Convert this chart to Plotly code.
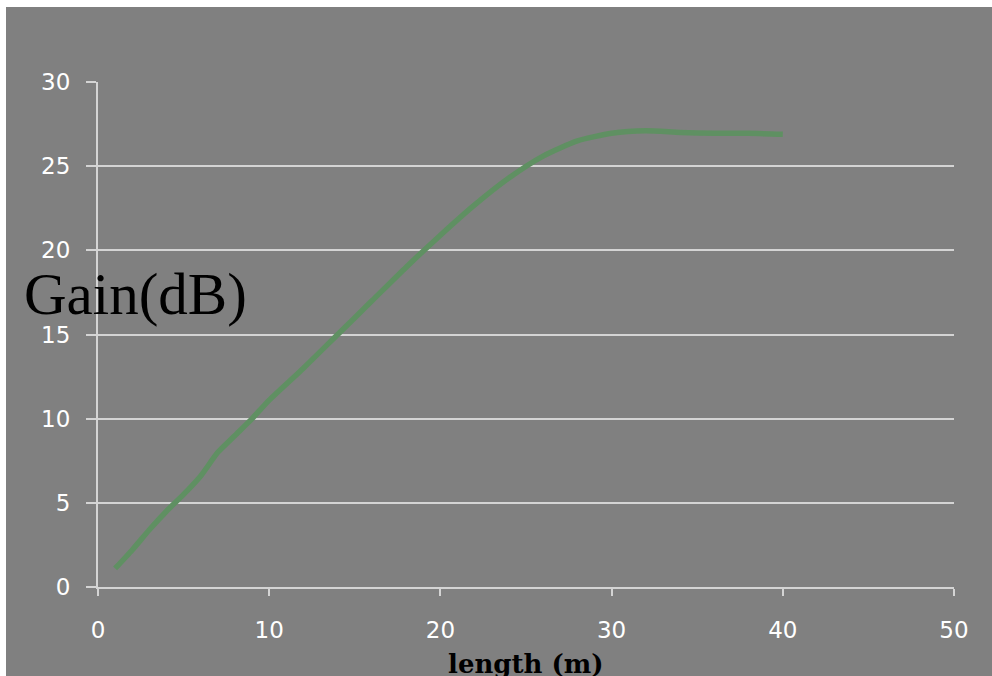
import plotly.graph_objects as go

# Fiber length (m) vs. measured gain (dB)
length_m = [1, 2, 3, 4, 5, 6, 7, 8, 9, 10, 12, 14, 16, 18, 20, 22, 24, 26, 28, 30, 32, 34, 36, 38, 40]
gain_db = [1.1, 2.2, 3.4, 4.5, 5.5, 6.6, 8.0, 9.0, 10.0, 11.1, 13.0, 15.0, 17.0, 19.0, 20.9,
           22.7, 24.3, 25.6, 26.5, 26.95, 27.1, 27.0, 26.95, 26.95, 26.9]

x_ticks = [0, 10, 20, 30, 40, 50]
y_ticks = [0, 5, 10, 15, 20, 25, 30]

W, H = 992, 676
L, R, T, B = 98, 38, 82, 89
pw, ph = W - L - R, H - T - B

def px_to_paper_x(px):
    return (px - L) / pw

def px_to_paper_y(py):
    return (H - B - py) / ph

fig = go.Figure()
fig.add_trace(go.Scatter(
    x=length_m, y=gain_db, mode="lines",
    line=dict(color="#5f9062", width=5.5, shape="spline", smoothing=0.6),
    hoverinfo="x+y", showlegend=False,
))

grid = "#d4d4d4"
tick_font = dict(family="DejaVu Sans", size=23, color="white")

fig.update_layout(
    width=W, height=H,
    margin=dict(l=L, r=R, t=T, b=B),
    paper_bgcolor="#808080",
    plot_bgcolor="#808080",
    xaxis=dict(
        range=[0, 50], tickvals=x_ticks, ticktext=[str(v) for v in x_ticks],
        showgrid=False, zeroline=False,
        showline=True, linecolor=grid, linewidth=2,
        ticks="outside", ticklen=7, tickwidth=2, tickcolor=grid,
        tickfont=tick_font, ticklabelstandoff=14,
    ),
    yaxis=dict(
        range=[0, 30], tickvals=y_ticks, ticktext=[str(v) for v in y_ticks],
        showgrid=True, gridcolor=grid, gridwidth=2, zeroline=False,
        showline=True, linecolor=grid, linewidth=2,
        ticks="outside", ticklen=10, tickwidth=2, tickcolor=grid,
        tickfont=tick_font, ticklabelstandoff=11,
    ),
    shapes=[
        # white strips along the top and left edges of the page
        dict(type="rect", xref="paper", yref="paper",
             x0=px_to_paper_x(0), x1=px_to_paper_x(W + 2),
             y0=px_to_paper_y(7), y1=px_to_paper_y(-2),
             fillcolor="white", line=dict(width=0), layer="above"),
        dict(type="rect", xref="paper", yref="paper",
             x0=px_to_paper_x(-2), x1=px_to_paper_x(6),
             y0=px_to_paper_y(H + 2), y1=px_to_paper_y(-2),
             fillcolor="white", line=dict(width=0), layer="above"),
    ],
    annotations=[
        dict(text="Gain(dB)", xref="paper", yref="paper",
             x=px_to_paper_x(135), y=px_to_paper_y(294),
             xanchor="center", yanchor="middle", showarrow=False,
             font=dict(family="Liberation Serif", size=59, color="black")),
        dict(text="<b>length (m)</b>", xref="paper", yref="paper",
             x=px_to_paper_x(526), y=px_to_paper_y(664),
             xanchor="center", yanchor="middle", showarrow=False,
             font=dict(family="DejaVu Serif", size=26, color="black")),
    ],
)

fig.write_html("out.html")
